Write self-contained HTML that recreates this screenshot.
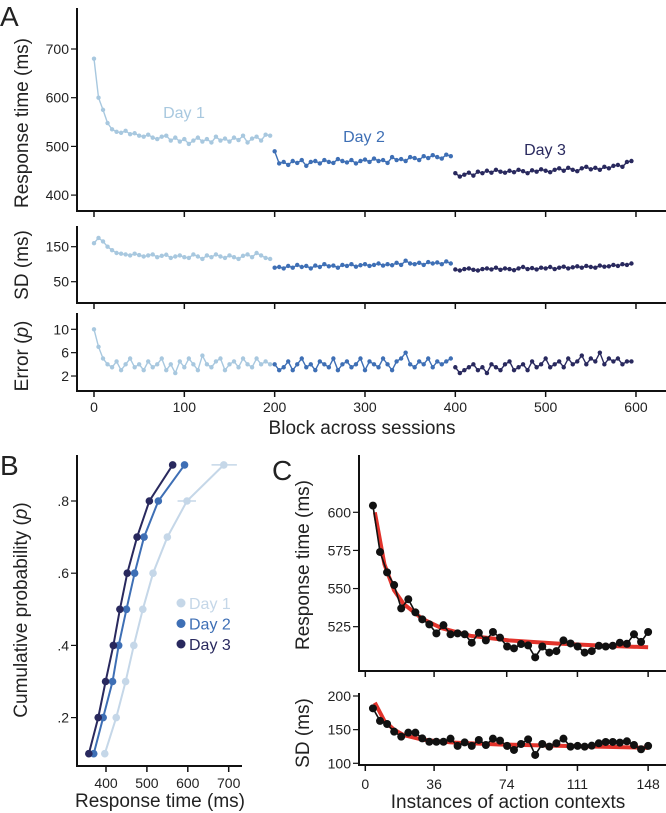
<!DOCTYPE html>
<html><head><meta charset="utf-8">
<style>
html,body{margin:0;padding:0;background:#fff;}
svg{display:block;font-family:"Liberation Sans",sans-serif;}
</style></head>
<body>
<svg id="fig" width="666" height="813" viewBox="0 0 666 813" xmlns="http://www.w3.org/2000/svg">
<g id="g"></g>
</svg>
<script>
// ---------- Panel A data ----------
const aDays = ["Day 1","Day 2","Day 3"];
const aColors = ["#a8c8df","#3e6fb5","#29295e"];
const bColors = ["#c5d7e8","#3e6fb5","#29295e"];
const aStarts = [0,200,400];
const aStep = 5;
const rtDay1 = [680,600,575,548,535,530,528,532,525,527,522,520,524,518,515,520,522,512,518,510,515,505,512,518,510,515,508,520,512,516,510,518,513,522,508,516,520,512,524,522];
const rtDay2 = [490,465,468,462,470,466,472,460,468,470,465,472,468,466,474,470,467,472,465,470,473,468,475,470,472,466,478,472,474,470,478,476,472,480,476,482,478,475,483,480];
const rtDay3 = [445,438,442,446,440,448,445,450,446,452,448,446,450,447,452,449,445,451,448,453,450,447,452,455,450,456,452,449,455,458,453,456,452,458,455,460,462,458,468,470];
const sdDay1 = [160,175,165,150,140,132,130,128,125,130,126,122,125,128,120,124,127,118,122,125,120,118,128,122,115,125,120,128,122,118,125,120,115,124,128,120,132,125,118,115];
const sdDay2 = [90,92,88,95,90,98,92,95,88,96,92,100,94,96,90,98,95,100,93,97,100,95,98,102,96,100,97,104,98,110,102,100,104,98,106,102,105,100,108,102];
const sdDay3 = [85,82,86,88,84,82,86,88,85,90,84,88,86,83,88,92,86,89,85,90,88,92,86,90,93,88,91,94,90,95,92,90,96,93,94,98,95,100,98,102];
const erDay1 = [10,7,5,4,3.5,4.5,3,4,5,3.5,4,3,4.5,3.5,4,5,3,4,2.5,4.5,3.5,5,4,3,5.5,4,3.5,4.5,5,3,4,4.5,3.5,5,4,3.5,5,4,4.5,4];
const erDay2 = [4,3,3.5,4.5,3,4,5,3.5,4,3,4.5,4,3.5,5,3,4,4.5,3.5,4,5,3,4.5,4,3.5,5,4,3,4.5,5,6,4,3.5,4.5,4,5,3.5,4.5,4,4.5,5];
const erDay3 = [3.5,2.5,3,3.5,4,3,3.5,2.5,4,3.5,3,4,4.5,3,3.5,4,3,4.5,3.5,4,5,3.5,4,4.5,3.5,5,4,4.5,5.5,4,5,4.5,6,4,5,4.5,5,4,4.5,4.5];
const aXTicks = [0,100,200,300,400,500,600];
const rtTicks = [400,500,600,700];
const sdTicks = [50,150];
const erTicks = [2,6,10];
// ---------- Panel B data ----------
const bProbs = [0.1,0.2,0.3,0.4,0.5,0.6,0.7,0.8,0.9];
const bDay1 = [397,425,448,468,490,515,550,598,688];
const bDay2 = [370,393,416,431,450,470,493,528,592];
const bDay3 = [358,381,399,418,434,452,476,506,563];
const bXTicks = [400,500,600,700];
const bYTicks = [0.2,0.4,0.6,0.8];
const bYLabels = [".2",".4",".6",".8"];
// ---------- Panel C data ----------
const cX = [4,7.7,11.4,15.1,18.8,22.5,26.2,29.8,33.5,37.2,40.9,44.6,48.3,52,55.7,59.4,63.1,66.8,70.5,74.2,77.8,81.5,85.2,88.9,92.6,96.3,100,103.7,107.4,111.1,114.8,118.5,122.2,125.8,129.5,133.2,136.9,140.6,144.3,148];
const cRT = [604.4,574,560.6,552.3,537,543,534.4,529.8,526.5,520.6,526,520,520.6,520,514.5,521,516,521.5,517.8,512,510.8,513.6,512.7,504.9,512,508,509,516,514,512,508,509,512.5,512,512.5,514.5,513.8,520,515,521.5];
const cSD = [181.7,163,158.4,147,139.6,145.5,145.5,137,132,132,132,136.6,125.8,131,125.8,134.7,127.2,136.6,133.7,125.8,119.8,128.7,135.6,112.4,128.7,124.8,129.7,136.6,124.8,125.8,124.8,126.2,129.7,131.7,131.7,130.7,132.7,127.2,120.8,125.8];
const fitX = [5,10,15,20,30,40,55,75,100,125,148];
const fitRT = [600,566,549,540,530,524,519,516,514,512.5,511.5];
const fitSDX = [5,10,15,20,30,45,70,100,148];
const fitSD = [190,163,150,142,135,131,128,126,123];
const cXTicks = [0,36,74,111,148];
const cRTTicks = [525,550,575,600];
const cSDTicks = [100,150,200];

const NS="http://www.w3.org/2000/svg";
const root=document.getElementById('g');
function el(tag,attrs,parent,text){const e=document.createElementNS(NS,tag);for(const k in attrs)e.setAttribute(k,attrs[k]);if(text!==undefined)e.textContent=text;(parent||root).appendChild(e);return e;}
function line(x1,y1,x2,y2,w,c,p){return el('line',{x1,y1,x2,y2,stroke:c||'#111','stroke-width':w||1},p);}
function txt(x,y,s,size,anchor,p,extra){const a={x,y,'font-size':size,'text-anchor':anchor||'middle',fill:'#222'};Object.assign(a,extra||{});return el('text',a,p,s);}

// ---------- Panel A ----------
const ax=b=>94+b*0.9033;
const yRT=v=>49+(700-v)*0.487;
const ySD=v=>246.7+(150-v)*0.35;
const yER=v=>329.3+(10-v)*5.84;
const panels=[
 {name:'rt',y:yRT,top:8,bot:211,ticks:rtTicks,data:[rtDay1,rtDay2,rtDay3]},
 {name:'sd',y:ySD,top:226,bot:303,ticks:sdTicks,data:[sdDay1,sdDay2,sdDay3]},
 {name:'error',y:yER,top:313,bot:391,ticks:erTicks,data:[erDay1,erDay2,erDay3]}
];
panels.forEach(P=>{
  const g=el('g',{});
  
  
  line(77,P.top,77,P.bot+1,2,'#111',g);
  line(76,P.bot,666,P.bot,2,'#111',g);
  aXTicks.forEach(t=>line(ax(t),P.bot,ax(t),P.bot+6,1.5,'#111',g));
  P.ticks.forEach(t=>{line(71,P.y(t),77,P.y(t),1.2,'#111',g);
    const l=txt(69,P.y(t)+5,String(t),14,'end',g);
    
    });
  P.data.forEach((arr,d)=>{
    const pts=arr.map((v,i)=>[ax(aStarts[d]+i*aStep),P.y(v)]);
    const pl=el('polyline',{points:pts.map(p=>p.join(',')).join(' '),fill:'none',stroke:aColors[d],'stroke-width':1.4},g);
    
    
    pts.forEach(p=>{const c=el('circle',{cx:p[0],cy:p[1],r:2.2,fill:aColors[d]},g);
      
      });
  });
});
aXTicks.forEach(t=>{const l=txt(ax(t),412,String(t),14,'middle');
  
  });
const dl=[[184,118,0],[364,142,1],[545,155,2]];
dl.forEach(a=>{const l=txt(a[0],a[1],aDays[a[2]],16,'middle',null,{fill:aColors[a[2]]});
  
  });

// ---------- Panel B ----------
const bx=v=>106+(v-400)*0.409;
const by=p=>501+(0.8-p)*361;
const gb=el('g',{});


line(77,455,77,767,2,'#111',gb);
line(76,766,242,766,2,'#111',gb);
bXTicks.forEach(t=>{line(bx(t),766,bx(t),772,1.5,'#111',gb);
  const l=txt(bx(t),788,String(t),14,'middle',gb);
  
  });
bYTicks.forEach((t,i)=>{line(71,by(t),77,by(t),1.2,'#111',gb);
  const l=txt(69,by(t)+5,bYLabels[i],14,'end',gb);
  
  });
[bDay1,bDay2,bDay3].forEach((arr,d)=>{
  const pts=arr.map((v,i)=>[bx(v),by(bProbs[i])]);
  const pl=el('polyline',{points:pts.map(p=>p.join(',')).join(' '),fill:'none',stroke:bColors[d],'stroke-width':2},gb);
  
  
  pts.forEach(p=>{const c=el('circle',{cx:p[0],cy:p[1],r:3.8,fill:bColors[d]},gb);
    
    });
});
line(bx(658),by(0.9),bx(720),by(0.9),1.5,bColors[0],gb);
line(bx(575),by(0.8),bx(620),by(0.8),1.5,bColors[0],gb);
[0,1,2].forEach(d=>{const lg=el('g',{},gb);
  
  
  el('circle',{cx:181,cy:603+d*20.5,r:4.5,fill:bColors[d]},lg);
  txt(189,609+d*20.5,aDays[d],16,'start',lg,{fill:bColors[d]});});

// ---------- Panel C ----------
const cx=v=>365.3+v*1.911;
const cyRT=v=>512.3+(600-v)*1.525;
const cySD=v=>696+(200-v)*0.673;
const gc=el('g',{});


line(359,455,359,672,2,'#111',gc);
line(358,671,666,671,2,'#111',gc);
line(359,693,359,766,2,'#111',gc);
line(358,765,666,765,2,'#111',gc);
cXTicks.forEach(t=>{line(cx(t),671,cx(t),677,1.5,'#111',gc);line(cx(t),765,cx(t),771,1.5,'#111',gc);
  const l=txt(cx(t),789,String(t),14,'middle',gc);
  
  });
cRTTicks.forEach(t=>{line(353,cyRT(t),359,cyRT(t),1.2,'#111',gc);
  const l=txt(351,cyRT(t)+5,String(t),14,'end',gc);
  
  });
cSDTicks.forEach(t=>{line(353,cySD(t),359,cySD(t),1.2,'#111',gc);
  const l=txt(351,cySD(t)+5,String(t),14,'end',gc);
  
  });
function drawC(xs,ys,fx,fy,yf,nm){
  const f=el('polyline',{points:fx.map((x,i)=>cx(x)+','+yf(fy[i])).join(' '),fill:'none',stroke:'#e2332b','stroke-width':4,'stroke-linejoin':'round'},gc);
  
  
  const pts=xs.map((x,i)=>[cx(x),yf(ys[i])]);
  const pl=el('polyline',{points:pts.map(p=>p.join(',')).join(' '),fill:'none',stroke:'#111','stroke-width':1.6},gc);
  
  
  pts.forEach(p=>{const c=el('circle',{cx:p[0],cy:p[1],r:4,fill:'#111'},gc);
    
    });
}
drawC(cX,cRT,fitX,fitRT,cyRT,'rt');
drawC(cX,cSD,fitSDX,fitSD,cySD,'sd');

// ---------- Titles ----------
function vt(x,y,s,size,nm){const t=txt(0,0,s,size,'middle',null,{transform:'translate('+x+','+y+') rotate(-90)'});
  
  return t;}
vt(28,123,'Response time (ms)',19,'y-axis-title-rt');
vt(28,265,'SD (ms)',19,'y-axis-title-sd');
const et=vt(28,356,'Error (',19,'y-axis-title-error');
const ts=document.createElementNS(NS,'tspan');ts.setAttribute('font-style','italic');ts.textContent='p';et.appendChild(ts);
et.appendChild(document.createTextNode(')'));
vt(27,610,'Cumulative probability (',19,'y-axis-title-cumprob');
const cp=root.lastChild;const ts2=document.createElementNS(NS,'tspan');ts2.setAttribute('font-style','italic');ts2.textContent='p';cp.appendChild(ts2);cp.appendChild(document.createTextNode(')'));
vt(309,565,'Response time (ms)',19,'y-axis-title-c-rt');
vt(309,733,'SD (ms)',19,'y-axis-title-c-sd');
let t;
t=txt(362,434,'Block across sessions',19);
t=txt(160,807,'Response time (ms)',19);
t=txt(508,808,'Instances of action contexts',19);
t=txt(0,26,'A',28,'start');
t=txt(0,475,'B',28,'start');
t=txt(272,480,'C',28,'start');
</script>
</body></html>
